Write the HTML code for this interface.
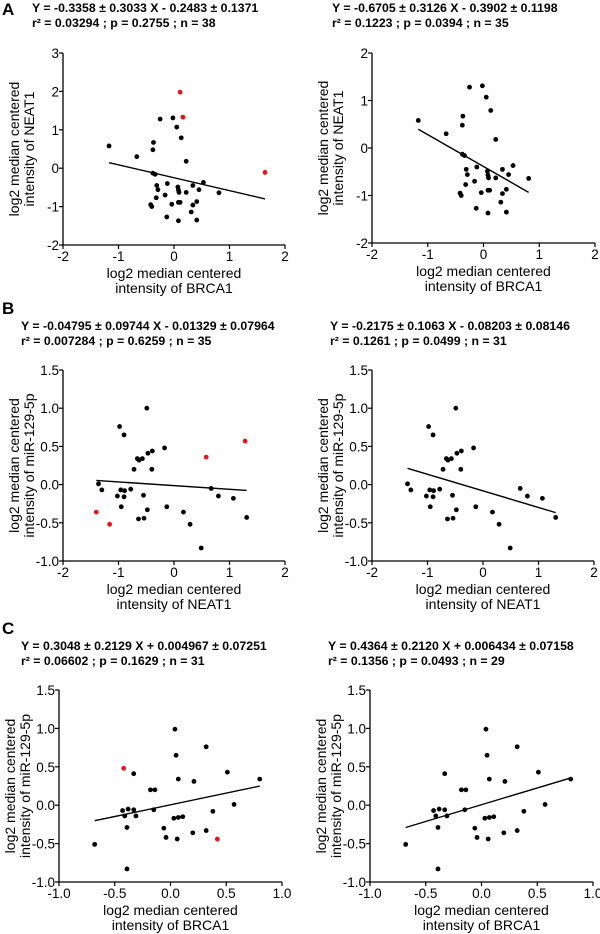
<!DOCTYPE html>
<html><head><meta charset="utf-8"><style>
body{margin:0;background:#fff;}
svg{display:block;font-family:"Liberation Sans",Arial,sans-serif;}
</style></head><body>
<svg id="fig" width="600" height="934" viewBox="0 0 600 934" xmlns="http://www.w3.org/2000/svg"></svg>
<script>
// Panel A data (BRCA1 vs NEAT1)
const aX = [-1.17,-0.67,-0.37,-0.38,-0.25,-0.02,0.05,0.13,0.22,-0.38,-0.34,-0.31,-0.29,-0.32,-0.42,-0.40,-0.12,-0.16,-0.04,-0.13,0.07,0.08,0.09,0.08,0.11,0.08,0.34,0.45,0.53,0.22,0.34,0.41,0.31,0.41,0.81];
const aY = [0.58,0.30,0.67,0.48,1.28,1.31,1.07,0.79,0.18,-0.13,-0.16,-0.45,-0.56,-0.77,-0.95,-1.0,-0.40,-0.70,-0.94,-1.27,-0.49,-0.57,-0.63,-0.89,-0.89,-1.37,-0.45,-0.56,-0.37,-0.63,-0.96,-0.87,-1.14,-1.35,-0.64];
const aRedX = [0.11,0.16,1.64];
const aRedY = [1.98,1.33,-0.11];
// Panel B data (NEAT1 vs miR-129-5p)
const bX = [-1.36,-1.30,-0.98,-0.90,-0.49,-0.72,-0.66,-0.63,-0.57,-0.47,-0.39,-0.40,-0.17,-1.02,-0.96,-0.89,-0.90,-0.78,-0.95,-0.55,-0.64,-0.54,-0.48,-0.13,0.17,0.29,0.49,0.67,0.80,1.07,1.31];
const bY = [0.01,-0.07,0.76,0.65,1.0,0.20,0.34,0.32,0.34,0.41,0.44,0.20,0.48,-0.15,-0.07,-0.08,-0.16,-0.06,-0.29,-0.14,-0.45,-0.44,-0.33,-0.29,-0.36,-0.52,-0.83,-0.05,-0.15,-0.18,-0.43];
const bRedX = [-1.40,-1.16,0.58,1.28];
const bRedY = [-0.36,-0.52,0.36,0.57];
// Panel C data (BRCA1 vs miR-129-5p)
const cX = [-0.68,-0.43,-0.41,-0.38,-0.33,-0.39,-0.39,-0.33,-0.31,-0.18,-0.14,-0.15,-0.06,-0.04,0.04,0.05,0.07,0.03,0.07,0.11,0.06,0.21,0.20,0.32,0.32,0.38,0.51,0.57,0.80];
const cY = [-0.51,-0.07,-0.14,-0.05,-0.06,-0.29,-0.83,0.41,-0.14,0.20,0.20,-0.06,-0.30,-0.42,0.99,0.65,0.34,-0.17,-0.16,-0.15,-0.44,0.31,-0.36,0.76,-0.33,-0.08,0.43,0.01,0.34];
const cRedX = [-0.42,0.42];
const cRedY = [0.48,-0.44];
// Fits: [slope, intercept]
const fits = [[-0.3358,-0.2483],[-0.6705,-0.3902],[-0.04795,-0.01329],[-0.2175,-0.08203],[0.3048,0.004967],[0.4364,0.006434]];
const eqText = [
 ["Y = -0.3358 ± 0.3033 X - 0.2483 ± 0.1371","r² = 0.03294 ;  p = 0.2755 ;  n = 38"],
 ["Y = -0.6705 ± 0.3126 X - 0.3902 ± 0.1198","r² = 0.1223 ;  p = 0.0394 ; n = 35"],
 ["Y = -0.04795 ± 0.09744 X - 0.01329 ± 0.07964","r² = 0.007284 ;  p = 0.6259 ;  n = 35"],
 ["Y = -0.2175 ± 0.1063 X - 0.08203 ± 0.08146","r² = 0.1261 ;  p = 0.0499 ; n = 31"],
 ["Y = 0.3048 ± 0.2129 X + 0.004967 ± 0.07251","r² = 0.06602 ;  p = 0.1629 ;  n = 31"],
 ["Y = 0.4364 ± 0.2120 X + 0.006434 ± 0.07158","r² = 0.1356 ;  p = 0.0493 ; n = 29"]];
const xTicksAB = ["-2","-1","0","1","2"];
const xTicksC = ["-1.0","-0.5","0.0","0.5","1.0"];
const yTicksA1 = ["-2","-1","0","1","2","3"];
const yTicksA2 = ["-2","-1","0","1","2"];
const yTicksBC = ["-1.0","-0.5","0.0","0.5","1.0","1.5"];

const NS="http://www.w3.org/2000/svg";
const svg=document.getElementById('fig');
function mk(tag,attrs,parent){const e=document.createElementNS(NS,tag);for(const k in attrs)e.setAttribute(k,attrs[k]);(parent||svg).appendChild(e);return e;}

const panels=[
 {id:'a-left',x0:63,x1:285,yt:53,yb:245,xt:xTicksAB,yt_:yTicksA1,X:aX,Y:aY,RX:aRedX,RY:aRedY,fit:0,eqX:32,eqY:12,ylab:"NEAT1",xlab:"BRCA1",letter:"A",ly:15},
 {id:'a-right',x0:372,x1:595,yt:53,yb:243,xt:xTicksAB,yt_:yTicksA2,X:aX,Y:aY,RX:[],RY:[],fit:1,eqX:332,eqY:12,ylab:"NEAT1",xlab:"BRCA1"},
 {id:'b-left',x0:63,x1:285,yt:370,yb:561,xt:xTicksAB,yt_:yTicksBC,X:bX,Y:bY,RX:bRedX,RY:bRedY,fit:2,eqX:21,eqY:330,ylab:"miR-129-5p",xlab:"NEAT1",letter:"B",ly:314},
 {id:'b-right',x0:372,x1:594,yt:370,yb:561,xt:xTicksAB,yt_:yTicksBC,X:bX,Y:bY,RX:[],RY:[],fit:3,eqX:330,eqY:330,ylab:"miR-129-5p",xlab:"NEAT1"},
 {id:'c-left',x0:59,x1:282,yt:690,yb:882,xt:xTicksC,yt_:yTicksBC,X:cX,Y:cY,RX:cRedX,RY:cRedY,fit:4,eqX:21,eqY:650,ylab:"miR-129-5p",xlab:"BRCA1",letter:"C",ly:634},
 {id:'c-right',x0:370,x1:593,yt:690,yb:882,xt:xTicksC,yt_:yTicksBC,X:cX,Y:cY,RX:[],RY:[],fit:5,eqX:328,eqY:650,ylab:"miR-129-5p",xlab:"BRCA1"}];

panels.forEach((p,i)=>{
 const g=mk('g',{});
 
 
 const xmin=parseFloat(p.xt[0]),xmax=parseFloat(p.xt[p.xt.length-1]);
 const ymin=parseFloat(p.yt_[0]),ymax=parseFloat(p.yt_[p.yt_.length-1]);
 const sx=v=>p.x0+(v-xmin)/(xmax-xmin)*(p.x1-p.x0);
 const sy=v=>p.yb-(v-ymin)/(ymax-ymin)*(p.yb-p.yt);
 if(p.letter){const t=mk('text',{x:2,y:p.ly,'font-size':17,'font-weight':'bold'},g);t.textContent=p.letter;
  
  }
 eqText[i].forEach((s,k)=>{const t=mk('text',{x:p.eqX,y:p.eqY+k*15,'font-size':12.3,'font-weight':'bold'},g);t.textContent=s;
  
  });
 const ax=mk('path',{d:`M${p.x0},${p.yt}V${p.yb}H${p.x1}`,stroke:'#000','stroke-width':1.3,fill:'none'},g);
 
 
 p.xt.forEach(l=>{const v=parseFloat(l),x=sx(v);
  mk('line',{x1:x,x2:x,y1:p.yb,y2:p.yb+4,stroke:'#000','stroke-width':1.2},g);
  const t=mk('text',{x:x,y:p.yb+16,'font-size':13.5,'text-anchor':'middle'},g);t.textContent=l;
  
  });
 p.yt_.forEach(l=>{const v=parseFloat(l),y=sy(v);
  mk('line',{x1:p.x0-4,x2:p.x0,y1:y,y2:y,stroke:'#000','stroke-width':1.2},g);
  const t=mk('text',{x:p.x0-4,y:y+5,'font-size':13.5,'text-anchor':'end'},g);t.textContent=l;
  
  });
 const cx=(p.x0+p.x1)/2;
 ["log2 median centered","intensity of "+p.xlab].forEach((s,k)=>{const t=mk('text',{x:cx,y:p.yb+33+k*15,'font-size':14,'text-anchor':'middle'},g);t.textContent=s;
  
  });
 const cy=(p.yt+p.yb)/2;
 ["log2 median centered","intensity of "+p.ylab].forEach((s,k)=>{const lx=p.x0-44+k*15;
  const t=mk('text',{x:lx,y:cy,'font-size':14,'text-anchor':'middle',transform:`rotate(-90 ${lx} ${cy})`},g);t.textContent=s;
  
  });
 const xs=p.X.concat(p.RX.length&&i%2===0?p.RX:[]);
 const lo=Math.min(...xs),hi=Math.max(...xs);
 const [m,b]=fits[p.fit];
 const ln=mk('line',{x1:sx(lo),y1:sy(m*lo+b),x2:sx(hi),y2:sy(m*hi+b),stroke:'#000','stroke-width':1.4},g);
 
 
 p.X.forEach((v,j)=>{const c=mk('circle',{cx:sx(v),cy:sy(p.Y[j]),r:2.4,fill:'#000'},g);
  
  });
 p.RX.forEach((v,j)=>{const c=mk('circle',{cx:sx(v),cy:sy(p.RY[j]),r:2.4,fill:'#e8141c'},g);
  
  });
});
</script>
</body></html>
